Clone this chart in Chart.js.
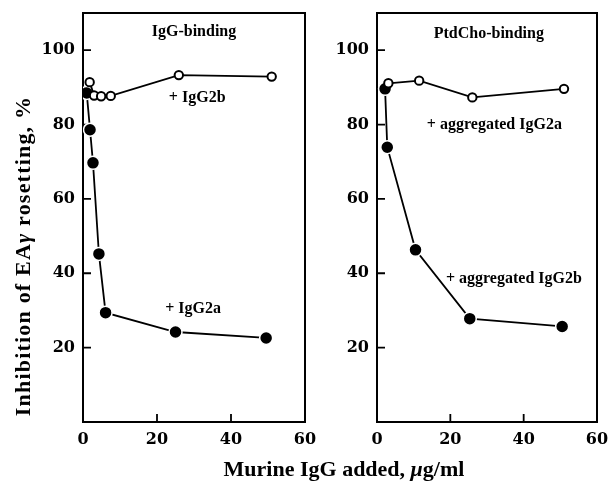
<!DOCTYPE html>
<html>
<head>
<meta charset="utf-8">
<script src="https://cdn.jsdelivr.net/npm/chart.js@4.4.0/dist/chart.umd.min.js"></script>
<style>
  body { margin: 0; background: #fff; }
  #wrap { position: relative; width: 608px; height: 488px; overflow: hidden; }
  canvas { position: absolute; top: 0; }
  #left { left: 0; }
  #right { left: 312px; }
  .axis-title { position: absolute; font: bold 22px "Liberation Serif", serif; color: #000; text-align: center; line-height: 26px; white-space: nowrap; }
  #xtitle { left: 144px; top: 456px; width: 400px; }
  #ytitle { left: -177px; top: 243px; width: 400px; height: 26px; letter-spacing: 1.2px; transform: rotate(-90deg); }
</style>
</head>
<body>
<div id="wrap">
  <canvas id="left" width="330" height="488"></canvas>
  <canvas id="right" width="330" height="488"></canvas>
  <div class="axis-title" id="xtitle">Murine IgG added, <i>μ</i>g/ml</div>
  <div class="axis-title" id="ytitle">Inhibition of EA<i>γ</i> rosetting, %</div>
</div>
<script>
// 左图：IgG-binding
const xIgG2a = [1, 1.9, 2.7, 4.3, 6.1, 25, 49.5];
const yIgG2a = [88.5, 78.6, 69.7, 45.2, 29.4, 24.2, 22.6];
const xIgG2b = [1.8, 3, 4.9, 7.5, 25.9, 51];
const yIgG2b = [91.4, 87.8, 87.6, 87.7, 93.3, 92.9];

// 右图：PtdCho-binding
const xAggIgG2b = [2.2, 2.8, 10.5, 25.3, 50.5];
const yAggIgG2b = [89.6, 73.9, 46.3, 27.8, 25.7];
const xAggIgG2a = [3.1, 11.5, 26, 51];
const yAggIgG2a = [91.1, 91.8, 87.3, 89.6];

// 坐标轴刻度
const xTicks = [0, 20, 40, 60];
const yTicks = [20, 40, 60, 80, 100];

const tickFont = { family: 'DejaVu Serif', size: 16, weight: 'bold' };
const noteFont = 'bold 16px "Liberation Serif", serif';

function toPoints(xs, ys) {
    return xs.map((x, i) => ({ x: x, y: ys[i] }));
}

function filled(xs, ys) {
    return {
        data: toPoints(xs, ys),
        showLine: true,
        borderColor: '#000',
        borderWidth: 1.8,
        pointRadius: 6.5,
        pointBackgroundColor: '#000',
        pointBorderColor: '#fff',
        pointBorderWidth: 1.5
    };
}

function open(xs, ys) {
    return {
        data: toPoints(xs, ys),
        showLine: true,
        borderColor: '#000',
        borderWidth: 1.8,
        pointRadius: 4.2,
        pointBackgroundColor: '#fff',
        pointBorderColor: '#000',
        pointBorderWidth: 2
    };
}

// 边框 + 向内的刻度线
const framePlugin = {
    id: 'frame',
    beforeDatasetsDraw(chart) {
        const { ctx, chartArea: a, scales } = chart;
        ctx.save();
        ctx.strokeStyle = '#000';
        ctx.lineWidth = 2;
        ctx.strokeRect(a.left, a.top, a.right - a.left, a.bottom - a.top);
        ctx.lineWidth = 1.8;
        ctx.beginPath();
        yTicks.forEach(v => {
            const y = scales.y.getPixelForValue(v);
            ctx.moveTo(a.left, y);
            ctx.lineTo(a.left + 8, y);
        });
        xTicks.slice(1, -1).forEach(v => {
            const x = scales.x.getPixelForValue(v);
            ctx.moveTo(x, a.bottom);
            ctx.lineTo(x, a.bottom - 8);
        });
        ctx.stroke();
        ctx.restore();
    }
};

// 文字标注
const notesPlugin = {
    id: 'notes',
    afterDraw(chart, args, opts) {
        const { ctx, scales } = chart;
        ctx.save();
        ctx.font = noteFont;
        ctx.fillStyle = '#000';
        ctx.textBaseline = 'middle';
        opts.items.forEach(n => {
            ctx.textAlign = n.align;
            ctx.fillText(n.text, scales.x.getPixelForValue(n.x), scales.y.getPixelForValue(n.y));
        });
        ctx.restore();
    }
};

function makePanel(id, datasets, notes, axisWidth, padRight) {
    new Chart(document.getElementById(id), {
        type: 'scatter',
        data: { datasets: datasets },
        options: {
            responsive: false,
            animation: false,
            layout: { padding: { top: 13, right: padRight, left: 0, bottom: 0 } },
            plugins: {
                legend: { display: false },
                tooltip: { enabled: false },
                notes: { items: notes }
            },
            scales: {
                x: {
                    type: 'linear', min: 0, max: 60,
                    grid: { display: false, drawTicks: false },
                    border: { display: false },
                    ticks: { stepSize: 20, color: '#000', font: tickFont, padding: 8, maxRotation: 0 },
                    afterFit: s => { s.height = 66; s.paddingLeft = 0; s.paddingRight = 0; }
                },
                y: {
                    min: 0, max: 110,
                    grid: { display: false, drawTicks: false },
                    border: { display: false },
                    ticks: {
                        stepSize: 20, includeBounds: false, color: '#000', font: tickFont, padding: 8,
                        callback: v => (v === 0 ? '' : v)
                    },
                    afterFit: s => { s.width = axisWidth; s.paddingTop = 0; s.paddingBottom = 0; }
                }
            }
        },
        plugins: [framePlugin, notesPlugin]
    });
}

makePanel('left',
    [open(xIgG2b, yIgG2b), filled(xIgG2a, yIgG2a)],
    [
        { text: 'IgG-binding', x: 30, y: 104.8, align: 'center' },
        { text: '+ IgG2b', x: 23.2, y: 87.2, align: 'left' },
        { text: '+ IgG2a', x: 22.2, y: 30.5, align: 'left' }
    ],
    83, 25);

makePanel('right',
    [open(xAggIgG2a, yAggIgG2a), filled(xAggIgG2b, yAggIgG2b)],
    [
        { text: 'PtdCho-binding', x: 30.5, y: 104.5, align: 'center' },
        { text: '+ aggregated IgG2a', x: 13.6, y: 80, align: 'left' },
        { text: '+ aggregated IgG2b', x: 18.8, y: 38.5, align: 'left' }
    ],
    65, 45);
</script>
</body>
</html>
